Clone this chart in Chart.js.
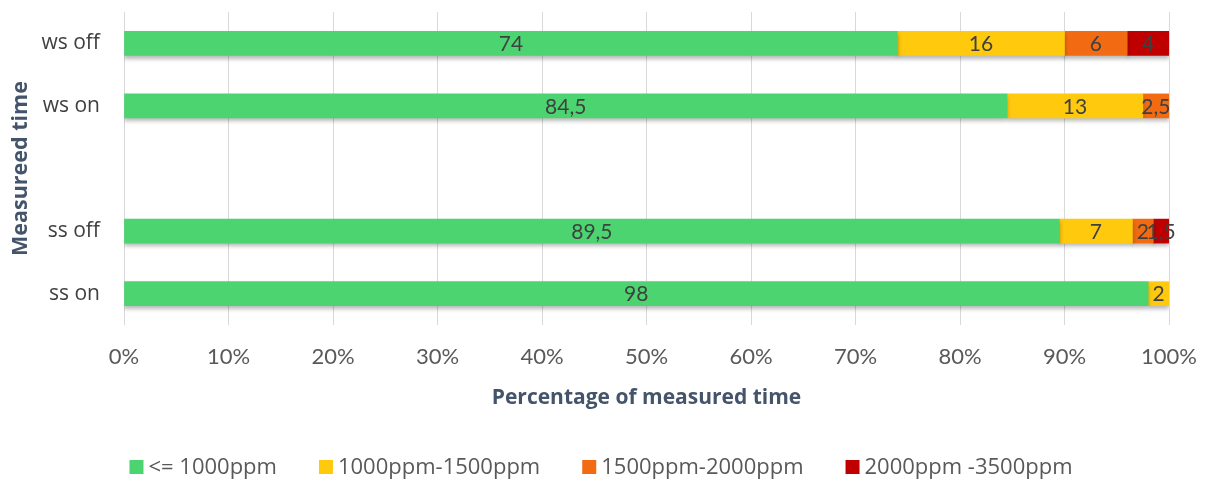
<!DOCTYPE html>
<html>
<head>
<meta charset="utf-8">
<script src="https://cdn.jsdelivr.net/npm/chart.js@4.4.1/dist/chart.umd.min.js"></script>
<style>
  html, body { margin: 0; padding: 0; background: #fff; }
  #wrap { width: 1206px; height: 482px; }
</style>
</head>
<body>
<div id="wrap"><canvas id="chart" width="1206" height="482"></canvas></div>
<script>
// --- DADOS ---
const categories = ['ws off', 'ws on', '', 'ss off', 'ss on'];
const seriesNames = ['<= 1000ppm', '1000ppm-1500ppm', '1500ppm-2000ppm', '2000ppm -3500ppm'];
const below1000 = [74, 84.5, null, 89.5, 98];
const from1000to1500 = [16, 13, null, 7, 2];
const from1500to2000 = [6, 2.5, null, 2, null];
const from2000to3500 = [4, null, null, 1.5, null];
const tickLabels = ['0%', '10%', '20%', '30%', '40%', '50%', '60%', '70%', '80%', '90%', '100%'];

const colors = ['#4cd471', '#ffc90e', '#f26b12', '#c00000'];
const seriesData = [below1000, from1000to1500, from1500to2000, from2000to3500];

// sombra leve por baixo das barras
const barShadow = {
    id: 'barShadow',
    beforeDatasetsDraw(chart) {
        const ctx = chart.ctx;
        ctx.save();
        ctx.shadowColor = 'rgba(0,0,0,0.28)';
        ctx.shadowBlur = 4;
        ctx.shadowOffsetY = 3;
    },
    afterDatasetsDraw(chart) {
        chart.ctx.restore();
    }
};

// rótulos de valor no meio de cada segmento
const valueLabels = {
    id: 'valueLabels',
    afterDatasetsDraw(chart) {
        const ctx = chart.ctx;
        ctx.save();
        ctx.font = '21px Lato, sans-serif';
        ctx.fillStyle = '#404040';
        ctx.textAlign = 'center';
        ctx.textBaseline = 'middle';
        chart.data.datasets.forEach((ds, i) => {
            const meta = chart.getDatasetMeta(i);
            meta.data.forEach((bar, j) => {
                const v = ds.data[j];
                if (v == null) return;
                const x = (bar.x + bar.base) / 2;
                ctx.fillText(String(v).replace('.', ','), x, bar.y + 1);
            });
        });
        ctx.restore();
    }
};

// legenda desenhada à mão (caixa pequena, pouco espaço até o texto)
const bottomLegend = {
    id: 'bottomLegend',
    afterDraw(chart) {
        const ctx = chart.ctx;
        const box = 14, gapText = 5, gapItem = 42, y = 467;
        ctx.save();
        ctx.font = '22px "Open Sans", sans-serif';
        ctx.textBaseline = 'middle';
        const widths = chart.data.datasets.map(ds => ctx.measureText(ds.label).width);
        let total = widths.reduce((a, w) => a + box + gapText + w, 0) + gapItem * (widths.length - 1);
        let x = 601 - total / 2;
        chart.data.datasets.forEach((ds, i) => {
            ctx.fillStyle = ds.backgroundColor;
            ctx.fillRect(x, y - box / 2, box, box);
            ctx.fillStyle = '#595959';
            ctx.fillText(ds.label, x + box + gapText, y + 1);
            x += box + gapText + widths[i] + gapItem;
        });
        ctx.restore();
    }
};

new Chart(document.getElementById('chart'), {
    type: 'bar',
    data: {
        labels: categories,
        datasets: seriesData.map((d, i) => ({
            label: seriesNames[i],
            data: d,
            backgroundColor: colors[i],
            borderWidth: 0,
            barThickness: 24
        }))
    },
    options: {
        indexAxis: 'y',
        responsive: false,
        animation: false,
        layout: { padding: { top: 12, right: 37, left: 0, bottom: 0 } },
        plugins: {
            tooltip: { enabled: false },
            legend: { display: false }
        },
        scales: {
            x: {
                stacked: true,
                min: 0,
                max: 100,
                grid: { color: '#d9d9d9', drawTicks: false },
                border: { display: false },
                ticks: {
                    stepSize: 10,
                    padding: 19,
                    color: '#595959',
                    font: { family: 'Lato', size: 22 },
                    callback: (v, i) => tickLabels[i]
                },
                title: {
                    display: true,
                    text: 'Percentage of measured time',
                    color: '#44546a',
                    font: { family: 'Open Sans', size: 21, weight: 'bold' },
                    padding: { top: 0, bottom: 71 }
                },
                afterFit(scale) {
                    scale.height = 157;
                    scale.paddingLeft = 0;
                    scale.paddingRight = 0;
                }
            },
            y: {
                stacked: true,
                grid: { display: false },
                border: { display: false },
                ticks: {
                    padding: 16,
                    color: '#404040',
                    font: { family: 'Open Sans', size: 21 }
                },
                title: {
                    display: true,
                    text: 'Measureed time',
                    color: '#44546a',
                    font: { family: 'Open Sans', size: 21.5, weight: 'bold' },
                    padding: { top: 8, bottom: 0 }
                },
                afterFit(scale) {
                    scale.width = 124;
                    scale.paddingTop = 0;
                    scale.paddingBottom = 0;
                }
            }
        }
    },
    plugins: [barShadow, valueLabels, bottomLegend]
});
</script>
</body>
</html>
